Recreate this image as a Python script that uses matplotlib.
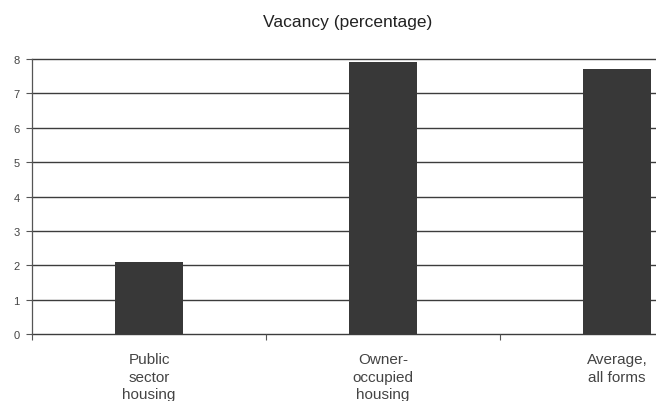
import matplotlib
matplotlib.use("Agg")
import matplotlib.pyplot as plt
import numpy as np

categories = ["Public\nsector\nhousing", "Owner-\noccupied\nhousing", "Average,\nall forms"]
vacancy = [2.1, 7.9, 7.7]
y_ticks = [0, 1, 2, 3, 4, 5, 6, 7, 8]

plt.rcParams["font.family"] = ["Liberation Sans", "DejaVu Sans"]

fig = plt.figure(figsize=(6.56, 4.02), dpi=100)
# plot area runs past the right edge of the figure
ax = fig.add_axes([32 / 656, 67 / 402, 702 / 656, 275 / 402])

x = np.arange(len(categories))
ax.bar(x, vacancy, width=0.29, color="#383838", zorder=3)

ax.set_xlim(-0.5, len(categories) - 0.5)
ax.set_ylim(0, 8)
ax.set_yticks(y_ticks)
ax.set_yticklabels([str(t) for t in y_ticks], fontsize=8, color="#444444")
for t in y_ticks:
    ax.axhline(t, color="#3c3c3c", linewidth=1.0, zorder=1, clip_on=False)

# category labels centred under bars, ticks on category boundaries
ax.set_xticks(np.arange(-0.5, len(categories) + 0.5, 1))
ax.set_xticklabels([])
ax.set_xticks(x, minor=True)
ax.set_xticklabels(categories, minor=True, fontsize=11, color="#444444", linespacing=1.32)
ax.tick_params(axis="x", which="minor", length=0, pad=13)
ax.tick_params(axis="x", which="major", length=4, width=0.8, color="#555555", direction="out")
ax.tick_params(axis="y", length=4, width=0.8, color="#555555", direction="out", pad=5)

for side in ["top", "right", "bottom"]:
    ax.spines[side].set_visible(False)
ax.spines["left"].set_color("#555555")
ax.spines["left"].set_linewidth(0.9)

fig.text(348 / 656, 1 - 22 / 402, "Vacancy (percentage)", ha="center", va="center",
         fontsize=12.5, color="#222222")

fig.savefig("out.png", dpi=100)
